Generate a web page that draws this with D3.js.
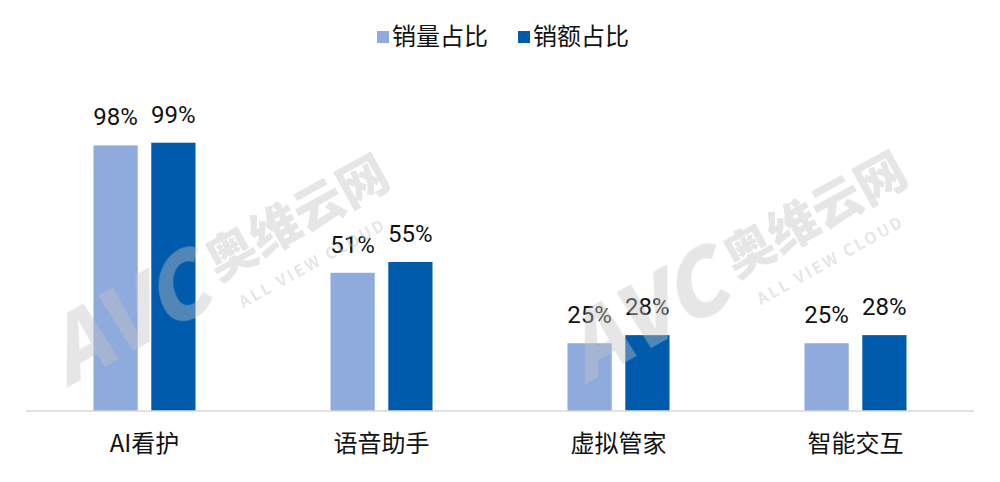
<!DOCTYPE html>
<html><head><meta charset="utf-8">
<script src="https://cdn.jsdelivr.net/npm/d3@7/dist/d3.min.js"></script>
<style>body{margin:0;background:#fff}svg{display:block}</style>
</head><body><svg id="c" width="1000" height="482"></svg>
<script>
const categories = ["AI看护", "语音助手", "虚拟管家", "智能交互"];
const seriesNames = ["销量占比", "销额占比"];
const volumeShare = [0.98, 0.51, 0.25, 0.25];
const valueShare = [0.99, 0.55, 0.28, 0.28];
const colors = ["#8FAADC", "#005BAC"];

const svg = d3.select("#c");
const plotLeft = 26, plotRight = 974, plotBase = 411, plotTop = 140;
const font = "'Noto Sans CJK SC', 'Noto Sans', sans-serif";

function wmText(g, cx, cy, size, weight, txt, extra) {
  const t = g.append("text").attr("transform", `translate(${cx},${cy}) rotate(-29)`)
    .attr("font-size", size).attr("font-weight", weight)
    .attr("text-anchor", "middle").attr("dominant-baseline", "central").text(txt);
  if (extra) extra(t);
}
function watermark(dx, dy) {
  const g = svg.append("g").attr("fill", "#c4c4c4").attr("opacity", 0.42).style("font-family", font);
  wmText(g, 123 + dx, 312 + dy, 88, 900, "AVC", t => t.attr("font-style", "italic"));
  wmText(g, 295 + dx, 214 + dy, 50, 900, "奥维云网");
  wmText(g, 312 + dx, 262 + dy, 16, 700, "ALL VIEW CLOUD", t => t.attr("letter-spacing", 2.5));
}

const x0 = d3.scaleBand().domain(categories).range([plotLeft, plotRight]).paddingInner(0).paddingOuter(0);
const x1 = d3.scaleBand().domain(seriesNames).range([x0.bandwidth()/2 - 51, x0.bandwidth()/2 + 51]).paddingInner(12/51).paddingOuter(0);
const y = d3.scaleLinear().domain([0, 1]).range([plotBase, plotTop]);

const data = categories.map((c, i) => ({cat: c, vals: [volumeShare[i], valueShare[i]]}));

const groups = svg.append("g").selectAll("g").data(data).join("g")
  .attr("transform", d => `translate(${x0(d.cat)},0)`);
groups.selectAll("rect").data(d => d.vals.map((v, j) => ({v, s: seriesNames[j], j})))
  .join("rect")
  .attr("x", d => x1(d.s)).attr("width", x1.bandwidth())
  .attr("y", d => y(d.v)).attr("height", d => plotBase - y(d.v))
  .attr("fill", d => colors[d.j]);
groups.selectAll("text").data(d => d.vals.map((v, j) => ({v, s: seriesNames[j], j})))
  .join("text")
  .attr("x", d => x1(d.s) + x1.bandwidth()/2).attr("y", d => y(d.v) - 20)
  .attr("text-anchor", "middle").attr("font-size", 24).attr("fill", "#111")
  .style("font-family", "Roboto, 'Noto Sans', sans-serif")
  .text(d => Math.round(d.v * 100) + "%");

const ax = svg.append("g").attr("transform", `translate(0,${plotBase})`)
  .call(d3.axisBottom(x0).tickSize(0).tickPadding(24));
ax.select(".domain").attr("stroke", "#d9d9d9").attr("stroke-width", 1.5)
  .attr("d", `M${plotLeft},0H${plotRight}`);
ax.selectAll(".tick text").attr("font-size", 24).attr("fill", "#111").style("font-family", font);

watermark(0, 0);
watermark(518, -3);

const legend = svg.append("g").style("font-family", font);
const lx = [377, 518];
seriesNames.forEach((n, i) => {
  legend.append("rect").attr("x", lx[i]).attr("y", 31).attr("width", 12).attr("height", 12).attr("fill", colors[i]);
  legend.append("text").attr("x", lx[i] + 15).attr("y", 45).attr("font-size", 24).attr("fill", "#111").text(n);
});
</script></body></html>
